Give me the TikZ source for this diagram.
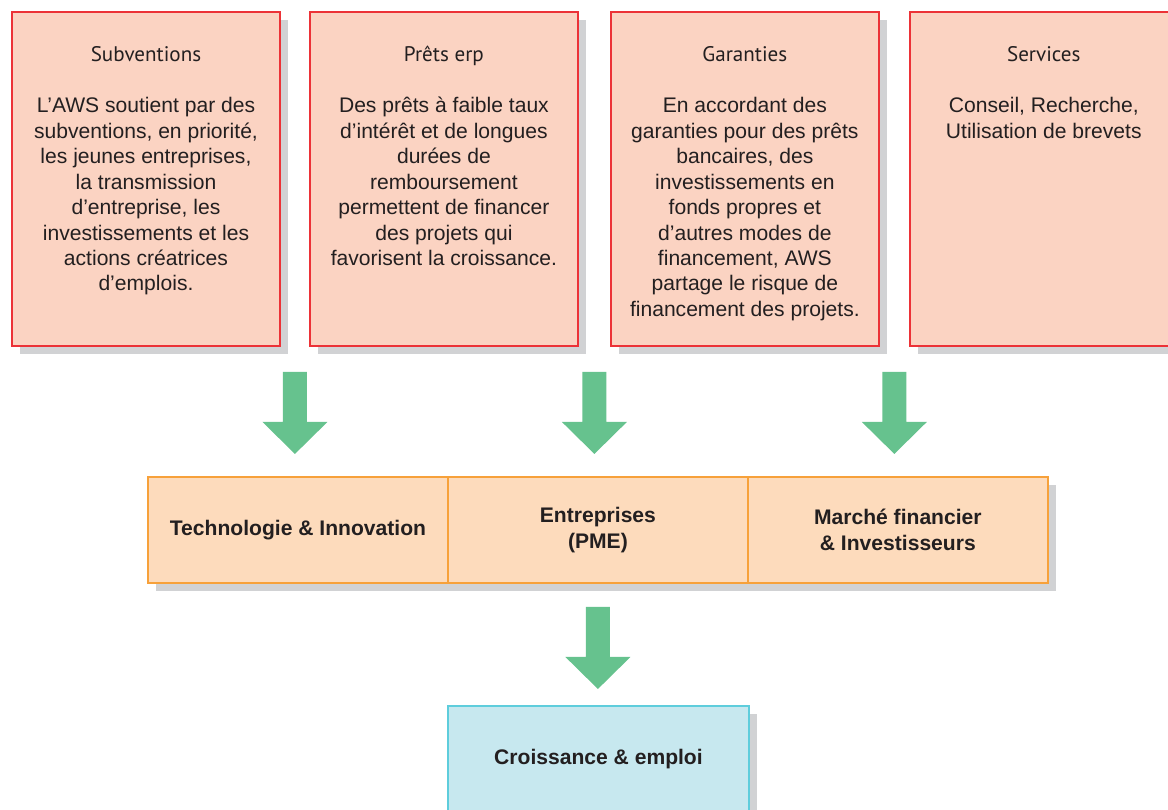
\documentclass[tikz,border=0pt]{standalone}
\usepackage{fontspec}
\setmainfont{Liberation Sans}
\newfontfamily\headfont{PT Sans}
\usetikzlibrary{positioning,calc,shadows}
\definecolor{PinkFill}{HTML}{FBD3C2}
\definecolor{RedLine}{HTML}{EC3237}
\definecolor{PeachFill}{HTML}{FDDBBC}
\definecolor{OrangeLine}{HTML}{F7A13A}
\definecolor{CyanFill}{HTML}{C7E8EF}
\definecolor{CyanLine}{HTML}{5ECDDC}
\definecolor{ShadowGray}{HTML}{D1D2D4}
\definecolor{ArrowGreen}{HTML}{66C28E}
\definecolor{TextGray}{HTML}{231F20}

%% block arrow pointing down, #1 = middle of its top edge
\newcommand{\flowarrow}[1]{%
  \fill[ArrowGreen] (#1) ++(-12,0) -- ++(0,50) -- ++(-20.5,0) -- ++(32.5,32)
    -- ++(32.5,-32) -- ++(-20.5,0) -- ++(0,-50) -- cycle;}

\begin{document}
\begin{tikzpicture}[x=0.02cm, y=-0.02cm, text=TextGray,
    font=\fontsize{12}{14.5}\selectfont,
    shadowed/.style={drop shadow={shadow xshift=0.16cm, shadow yshift=-0.16cm,
        fill=ShadowGray, opacity=1}},
    topbox/.style={shadowed, draw=RedLine, fill=PinkFill, line width=0.9pt,
        minimum width=5.36cm, minimum height=6.68cm, inner sep=0pt, outer sep=0pt},
    midbox/.style={shadowed, draw=OrangeLine, fill=PeachFill, line width=1.1pt,
        minimum width=6cm, minimum height=2.12cm, outer sep=0pt, align=center,
        font=\bfseries\fontsize{12}{14.7}\selectfont},
    endbox/.style={shadowed, draw=CyanLine, fill=CyanFill, line width=1.1pt,
        minimum width=6.02cm, minimum height=2.12cm, outer sep=0pt,
        font=\bfseries\fontsize{12}{14.7}\selectfont},
    headtext/.style={font=\headfont\fontsize{12}{14}\selectfont, anchor=base, inner sep=0pt},
    bodytext/.style={align=center, anchor=north, inner sep=0pt}]
    \useasboundingbox (0,0) rectangle (1168,809);
    %%Support boxes
    \node[topbox, anchor=north west] (subv) at (12,12) {};
    \node[topbox, right=0.6cm of subv] (loans) {};
    \node[topbox, right=0.66cm of loans] (guar) {};
    \node[topbox, right=0.62cm of guar] (serv) {};
    %%Headings
    \node[headtext] (subvhead) at ($(subv.north)+(0,49)$) {Subventions};
    \node[headtext] (loanshead) at ($(loans.north)+(0,49)$) {Prêts erp};
    \node[headtext] (guarhead) at ($(guar.north)+(0,49)$) {Garanties};
    \node[headtext] (servhead) at ($(serv.north)+(0,49)$) {Services};
    %%Texts
    \node[bodytext] (subvtext) at ($(subv.north)+(0,85)$)
        {L’AWS soutient par des\\subventions, en priorité,\\les jeunes entreprises,\\la transmission\\d’entreprise, les\\investissements et les\\actions créatrices\\d’emplois.};
    \node[bodytext] (loanstext) at ($(loans.north)+(0,85)$)
        {Des prêts à faible taux\\d’intérêt et de longues\\durées de\\remboursement\\permettent de financer\\des projets qui\\favorisent la croissance.};
    \node[bodytext] (guartext) at ($(guar.north)+(0,85)$)
        {En accordant des\\garanties pour des prêts\\bancaires, des\\investissements en\\fonds propres et\\d’autres modes de\\financement, AWS\\partage le risque de\\financement des projets.};
    \node[bodytext] (servtext) at ($(serv.north)+(0,85)$)
        {Conseil, Recherche,\\Utilisation de brevets};
    %%Arrows
    \coordinate (arr1) at ($(subv.south east)!0.5!(loans.south west)+(0,26)$);
    \coordinate (arr2) at ($(loans.south east)!0.5!(guar.south west)+(0,26)$);
    \coordinate (arr3) at ($(guar.south east)!0.5!(serv.south west)+(0,26)$);
    \flowarrow{arr1}
    \flowarrow{arr2}
    \flowarrow{arr3}
    %%Middle row
    \node[midbox, anchor=north west] (tech) at (148,477) {Technologie \& Innovation};
    \node[midbox, right=0pt of tech] (smes) {Entreprises\\(PME)};
    \node[midbox, right=0pt of smes] (market) {Marché financier\\\& Investisseurs};
    \coordinate (arr4) at ($(smes.south)+(0,24)$);
    \flowarrow{arr4}
    %%Result
    \node[endbox, anchor=north west] (growth) at (448,706) {Croissance \& emploi};
\end{tikzpicture}
\end{document}
